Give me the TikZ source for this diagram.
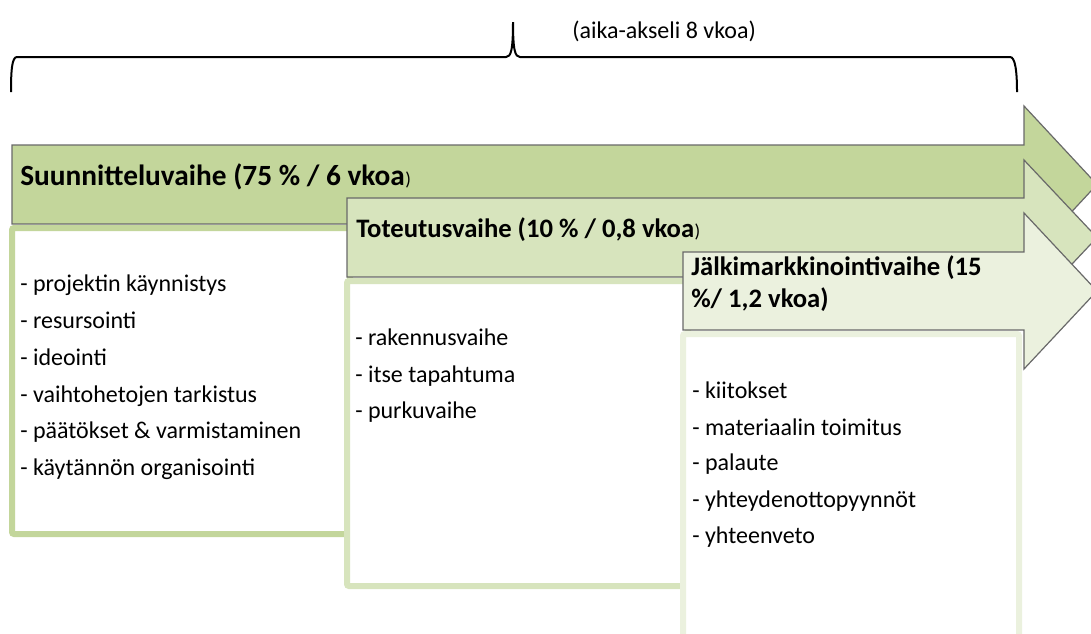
\documentclass[tikz,border=0pt]{standalone}
\usepackage{fontspec}
\setmainfont{Carlito}
\definecolor{phaseA}{RGB}{195,214,155}
\definecolor{phaseB}{RGB}{215,228,189}
\definecolor{phaseC}{RGB}{235,241,222}
\definecolor{edgegray}{RGB}{105,105,105}

\begin{document}
\begin{tikzpicture}[x=0.75pt,y=0.75pt,yscale=-1,xscale=1,
  phasearrow/.style={draw=edgegray,line width=0.9,line join=miter},
  listbox/.style={fill=white,line width=4.5,rounded corners=1.5},
  heading/.style={anchor=base west,inner sep=0pt,font=\fontsize{20}{24}\selectfont\bfseries},
  closeparen/.style={anchor=base west,inner sep=0pt,font=\fontsize{14}{16}\selectfont},
  itemtext/.style={anchor=base west,inner sep=0pt,font=\fontsize{18}{22}\selectfont}]
%set diagram size 1091 x 633
\useasboundingbox (0,0) rectangle (1091,633);
\clip (0,0) rectangle (1091,633);

%Shape: Brace
\draw [line width=1.5] (11,92) .. controls (11,70) and (12,57) .. (17,57) -- (506,57) .. controls (511,57) and (513,50) .. (513,22) .. controls (513,50) and (515,57) .. (520,57) -- (1010,57) .. controls (1015,57) and (1017,70) .. (1017,92) ;

%Shape: Right Arrow (suunnittelu)
\draw [phasearrow, fill=phaseA] (12,145) -- (1024,145) -- (1024,106) -- (1097,184.5) -- (1024,263) -- (1024,224) -- (12,224) -- cycle ;
%Shape: Rectangle
\draw [listbox, draw=phaseA] (12,228) rectangle (350,534) ;

%Shape: Right Arrow (toteutus)
\draw [phasearrow, fill=phaseB] (347,198) -- (1024,198) -- (1024,160) -- (1097,237.5) -- (1024,315) -- (1024,277) -- (347,277) -- cycle ;
%Shape: Rectangle
\draw [listbox, draw=phaseB] (347,281) rectangle (688,586) ;

%Shape: Right Arrow (jalkimarkkinointi)
\draw [phasearrow, fill=phaseC] (683,252) -- (1024,252) -- (1024,213) -- (1097,291) -- (1024,369) -- (1024,330) -- (683,330) -- cycle ;
%Shape: Rectangle
\draw [listbox, draw=phaseC] (683,334) rectangle (1019,645) ;

% Text Node
\draw (572,38) node [itemtext] (axis) {(aika-akseli 8 vkoa)};

% Text Node
\draw (20,185) node [heading, font=\fontsize{22}{26}\selectfont\bfseries] (plan) {Suunnitteluvaihe (75 \% / 6 vkoa};
\draw (plan.base east) node [closeparen] (planparen) {)};
% Text Node
\draw (356,237) node [heading] (exec) {Toteutusvaihe (10 \% / 0,8 vkoa};
\draw (exec.base east) node [closeparen] (execparen) {)};
% Text Node
\draw (691,275) node [heading] (post) {Jälkimarkkinointivaihe (15};
\draw (691,307) node [heading] (postb) {\%/ 1,2 vkoa)};

% Text Node
\draw (20,291) node [itemtext] (plana) {- projektin käynnistys};
\draw (20,328) node [itemtext] (planb) {- resursointi};
\draw (20,365) node [itemtext] (planc) {- ideointi};
\draw (20,402) node [itemtext] (pland) {- vaihtohetojen tarkistus};
\draw (20,438) node [itemtext] (plane) {- päätökset \& varmistaminen};
\draw (20,475) node [itemtext] (planf) {- käytännön organisointi};

% Text Node
\draw (355,345) node [itemtext] (execa) {- rakennusvaihe};
\draw (355,382) node [itemtext] (execb) {- itse tapahtuma};
\draw (355,418) node [itemtext] (execc) {- purkuvaihe};

% Text Node
\draw (692,398) node [itemtext] (posta) {- kiitokset};
\draw (692,435) node [itemtext] (postb2) {- materiaalin toimitus};
\draw (692,470) node [itemtext] (postc) {- palaute};
\draw (692,507) node [itemtext] (postd) {- yhteydenottopyynnöt};
\draw (692,543) node [itemtext] (poste) {- yhteenveto};

\end{tikzpicture}
\end{document}
